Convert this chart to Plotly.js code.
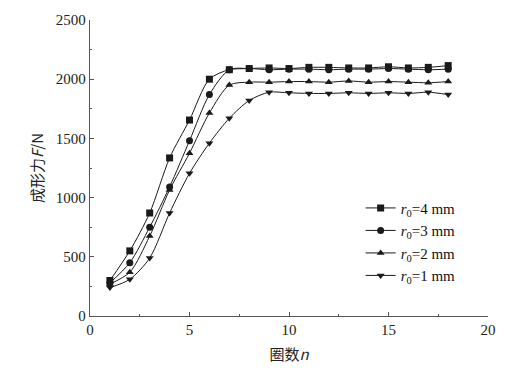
<!DOCTYPE html>
<html><head><meta charset="utf-8">
<script src="https://cdn.plot.ly/plotly-3.0.1.min.js"></script>
<style>html,body{margin:0;padding:0;background:#fff;}#chart{width:514px;height:377px;}</style>
</head><body><div id="chart"></div>
<script>
const turns = [1,2,3,4,5,6,7,8,9,10,11,12,13,14,15,16,17,18];
const force_r4 = [300,550,870,1335,1655,2000,2080,2090,2095,2090,2100,2100,2095,2095,2105,2095,2100,2115];
const force_r3 = [280,450,750,1090,1480,1870,2080,2090,2080,2085,2085,2080,2085,2085,2090,2085,2080,2085];
const force_r2 = [270,370,675,1065,1375,1715,1950,1975,1975,1980,1980,1975,1985,1975,1980,1975,1970,1980];
const force_r1 = [240,310,490,870,1205,1460,1670,1820,1890,1885,1880,1880,1885,1880,1885,1880,1890,1870];
const seriesNames = ['<i>r</i><sub>0</sub>=4 mm','<i>r</i><sub>0</sub>=3 mm','<i>r</i><sub>0</sub>=2 mm','<i>r</i><sub>0</sub>=1 mm'];
const symbols = ['square','circle','triangle-up','triangle-down'];
const series = [force_r4, force_r3, force_r2, force_r1];

const traces = series.map((ys, i) => ({
  x: turns, y: ys, type: 'scatter', mode: 'lines+markers', name: seriesNames[i],
  line: {color: '#1a1a1a', width: 1, shape: 'spline', smoothing: 0.8},
  marker: {symbol: symbols[i], size: 7, color: '#1a1a1a'}
}));

const serif = 'Liberation Serif, Times New Roman, serif';
const layout = {
  width: 514, height: 377,
  margin: {l: 90, r: 26, t: 20, b: 61},
  paper_bgcolor: '#fff', plot_bgcolor: '#fff',
  showlegend: true,
  legend: {x: 0.68, y: 0.42, xanchor: 'left', yanchor: 'top', font: {family: serif, size: 15, color: '#111'},
           bgcolor: 'rgba(0,0,0,0)', tracegroupgap: 0, itemwidth: 30},
  xaxis: {range: [0, 20], dtick: 5, tick0: 0, showgrid: false, zeroline: false,
          showline: true, linecolor: '#555', linewidth: 1.2,
          ticks: 'inside', ticklen: 4, tickcolor: '#555',
          minor: {dtick: 2.5, ticks: 'inside', ticklen: 2, tickcolor: '#555'},
          tickfont: {family: serif, size: 15, color: '#222'},
          title: {text: '圈数<i>n</i>', font: {family: 'Noto Sans CJK SC, ' + serif, size: 15, color: '#222'}, standoff: 12}},
  yaxis: {range: [0, 2500], dtick: 500, showgrid: false, zeroline: false,
          showline: true, linecolor: '#555', linewidth: 1.2,
          ticks: 'inside', ticklen: 4, tickcolor: '#555',
          minor: {dtick: 250, ticks: 'inside', ticklen: 2, tickcolor: '#555'},
          tickfont: {family: serif, size: 15, color: '#222'},
          title: {text: '成形力<i>F</i>/N', font: {family: 'Noto Sans CJK SC, ' + serif, size: 15, color: '#222'}, standoff: 8}}
};
Plotly.newPlot('chart', traces, layout, {displayModeBar: false, staticPlot: true});
</script></body></html>
